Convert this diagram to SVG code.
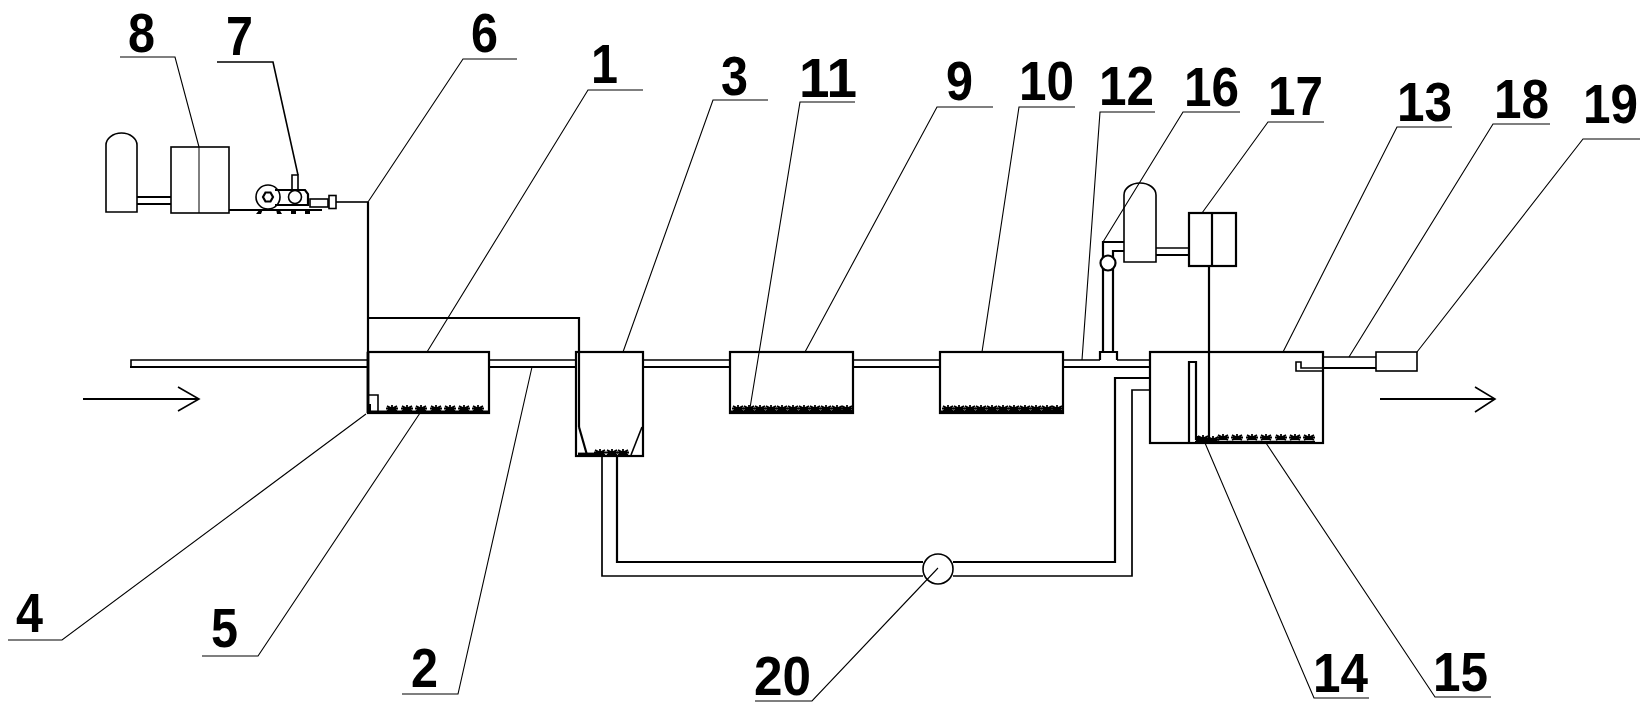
<svg xmlns="http://www.w3.org/2000/svg" xmlns:xlink="http://www.w3.org/1999/xlink" width="1646" height="711" viewBox="0 0 1646 711">
<style>
  .bg{fill:#fff}
  .s,.m,.t,.h,.d,.l{fill:none;stroke:#000;stroke-linejoin:miter}
  .s{stroke-width:2.2}
  .m{stroke-width:1.6}
  .t{stroke-width:1}
  .h{stroke-width:2.8}
  .l{stroke-width:1.1}
  .d{stroke-width:1.8}
  .w{fill:#fff;stroke:#000;stroke-width:2.2}
  .wm{fill:#fff;stroke:#000;stroke-width:1.6}
  .k{fill:#000}
  text{font-family:"Liberation Sans",Arial,sans-serif;font-weight:700;font-size:56px;fill:#000}
</style>
<defs>
  <g id="df"><path class="d" d="M-5,-5L5,0M5,-5L-5,0M0,-6V0M-6,-2.5H6M-3,-1H3"/></g>
</defs>
<rect class="bg" width="1646" height="711"/>

<g id="connectors">
  <!-- main line -->
  <path class="m" d="M367,360H131V367M489,360H576M643,360H730M853,360H940M1063,360H1100M1117,360H1150"/>
  <path class="s" d="M130,367H367M489,367H576M643,367H730M853,367H940M1063,367H1150"/>
  <!-- air line from blower to tanks -->
  <path class="m" d="M336,202H368"/>
  <path class="s" d="M368,202V352M368,318H579V427"/>
  <!-- return loop -->
  <path class="s" d="M617,456V562H923M953,562H1115V378H1150"/>
  <path class="s" style="stroke-width:1.7" d="M602,456V576H923M953,576H1132V390H1150"/>
  <!-- dosing riser -->
  <path class="s" d="M1103,352V242H1124M1113,352V251H1124"/>
  <path class="s" d="M1100,360V352H1117V360"/>
  <!-- blower pipes -->
  <path class="s" d="M137,197H171M229,210H322M137,204H171"/>
  <path class="m" d="M1156,248H1189"/>
  <path class="s" d="M1156,255H1189"/>
  <path class="s" d="M1209,266V442"/>
  <!-- outlet pipe -->
  <path class="m" d="M1323,357H1376"/>
  <path class="s" d="M1323,368H1376"/>
  <!-- flow arrows -->
  <path class="s" d="M83,399H199M1380,399H1495"/>
  <path class="m" d="M178,387L199,399L178,411M1475,387L1495,399L1475,412"/>
</g>

<g id="node-blower-tank-left">
  <path class="wm" d="M106,212V145A15.5,12 0 0 1 137,145V212Z"/>
</g>
<g id="node-8">
  <rect class="wm" x="171" y="147" width="58" height="66"/>
  <path class="t" d="M199,147V213"/>
  <text x="128" y="52" textLength="27" lengthAdjust="spacingAndGlyphs">8</text>
</g>
<g id="node-7">
  <circle class="wm" cx="268" cy="197" r="12"/>
  <path class="s" d="M263,197L265.500,192.500H270.500L273,197L270.500,201.500H265.500Z"/>
  <path class="s" d="M275,190H305L308,194V205H275"/>
  <circle class="m" cx="295" cy="197" r="6.500"/>
  <path class="m" d="M292,190V175H298V190"/>
  <rect class="wm" x="310" y="199" width="18" height="8"/>
  <rect class="wm" x="329" y="195.500" width="7" height="13"/>
  <path class="k" d="M256,214L260,209H263L261,214ZM276,209H279L282,214H277ZM291,210H296V214H291ZM305,210H310V214H305Z"/>
  <text x="226" y="55" textLength="27" lengthAdjust="spacingAndGlyphs">7</text>
</g>
<g id="node-6"><text x="471" y="52" textLength="27" lengthAdjust="spacingAndGlyphs">6</text></g>

<g id="node-1">
  <rect class="s" x="368" y="352" width="121" height="61"/>
  <path class="h" d="M368,352V413"/>
  <text x="591" y="83" textLength="27" lengthAdjust="spacingAndGlyphs">1</text>
</g>
<g id="node-4">
  <path class="m" d="M369,395H378V411"/>
  <path class="k" d="M368,404H371V412H368Z"/>
  <text x="16" y="632" textLength="27" lengthAdjust="spacingAndGlyphs">4</text>
</g>
<g id="node-5">
  <path class="h" d="M369,412H488"/>
  <use xlink:href="#df" href="#df" x="392" y="411"/>
  <use xlink:href="#df" href="#df" x="407" y="411"/>
  <use xlink:href="#df" href="#df" x="421" y="411"/>
  <use xlink:href="#df" href="#df" x="436" y="411"/>
  <use xlink:href="#df" href="#df" x="450" y="411"/>
  <use xlink:href="#df" href="#df" x="464" y="411"/>
  <use xlink:href="#df" href="#df" x="478" y="411"/>
  <text x="211" y="647" textLength="27" lengthAdjust="spacingAndGlyphs">5</text>
</g>
<g id="node-2"><text x="411" y="687" textLength="27" lengthAdjust="spacingAndGlyphs">2</text></g>

<g id="node-3">
  <rect class="s" x="576" y="352" width="67" height="104"/>
  <path class="s" d="M579,427L587,455"/>
  <path class="m" d="M642,427L631,455"/>
  <path class="h" d="M578,454H600"/>
  <use xlink:href="#df" href="#df" x="600" y="455"/>
  <use xlink:href="#df" href="#df" x="612" y="455"/>
  <use xlink:href="#df" href="#df" x="623" y="455"/>
  <text x="721" y="95" textLength="27" lengthAdjust="spacingAndGlyphs">3</text>
</g>

<g id="node-9">
  <rect class="s" x="730" y="352" width="123" height="61"/>
  <path class="h" d="M731,412H852"/>
  <use xlink:href="#df" href="#df" x="738" y="411"/>
  <use xlink:href="#df" href="#df" x="749" y="411"/>
  <use xlink:href="#df" href="#df" x="760" y="411"/>
  <use xlink:href="#df" href="#df" x="771" y="411"/>
  <use xlink:href="#df" href="#df" x="782" y="411"/>
  <use xlink:href="#df" href="#df" x="793" y="411"/>
  <use xlink:href="#df" href="#df" x="804" y="411"/>
  <use xlink:href="#df" href="#df" x="815" y="411"/>
  <use xlink:href="#df" href="#df" x="826" y="411"/>
  <use xlink:href="#df" href="#df" x="837" y="411"/>
  <use xlink:href="#df" href="#df" x="847" y="411"/>
  <text x="946" y="100" textLength="27" lengthAdjust="spacingAndGlyphs">9</text>
</g>
<g id="node-11"><text x="799" y="97" textLength="58" lengthAdjust="spacingAndGlyphs">11</text></g>

<g id="node-10">
  <rect class="s" x="940" y="352" width="123" height="61"/>
  <path class="h" d="M941,412H1062"/>
  <use xlink:href="#df" href="#df" x="948" y="411"/>
  <use xlink:href="#df" href="#df" x="959" y="411"/>
  <use xlink:href="#df" href="#df" x="970" y="411"/>
  <use xlink:href="#df" href="#df" x="981" y="411"/>
  <use xlink:href="#df" href="#df" x="992" y="411"/>
  <use xlink:href="#df" href="#df" x="1003" y="411"/>
  <use xlink:href="#df" href="#df" x="1014" y="411"/>
  <use xlink:href="#df" href="#df" x="1025" y="411"/>
  <use xlink:href="#df" href="#df" x="1036" y="411"/>
  <use xlink:href="#df" href="#df" x="1047" y="411"/>
  <use xlink:href="#df" href="#df" x="1057" y="411"/>
  <text x="1019" y="100" textLength="55" lengthAdjust="spacingAndGlyphs">10</text>
</g>

<g id="node-12"><text x="1099" y="105" textLength="55" lengthAdjust="spacingAndGlyphs">12</text></g>

<g id="node-16">
  <circle class="w" cx="1108" cy="263" r="7.500"/>
  <path class="wm" d="M1124,262V195A16,12 0 0 1 1156,195V262Z"/>
  <text x="1184" y="106" textLength="55" lengthAdjust="spacingAndGlyphs">16</text>
</g>
<g id="node-17">
  <rect class="s" x="1189" y="213" width="47" height="53"/>
  <path class="s" d="M1212,213V266"/>
  <text x="1268" y="115" textLength="55" lengthAdjust="spacingAndGlyphs">17</text>
</g>

<g id="node-13">
  <rect class="s" x="1150" y="352" width="173" height="91"/>
  <path class="m" d="M1323,371H1296V362H1301V368H1323"/>
  <text x="1397" y="121" textLength="55" lengthAdjust="spacingAndGlyphs">13</text>
</g>
<g id="node-14">
  <path class="s" d="M1189,443V362H1196V440"/>
  <path class="k" d="M1196,436H1200V441H1196Z"/>
  <text x="1313" y="692" textLength="55" lengthAdjust="spacingAndGlyphs">14</text>
</g>
<g id="node-15">
  <path class="m" d="M1195,441.500H1315"/>
  <use xlink:href="#df" href="#df" x="1203" y="441"/>
  <use xlink:href="#df" href="#df" x="1213" y="442"/>
  <use xlink:href="#df" href="#df" x="1223" y="440"/>
  <use xlink:href="#df" href="#df" x="1237" y="440"/>
  <use xlink:href="#df" href="#df" x="1252" y="440"/>
  <use xlink:href="#df" href="#df" x="1266" y="440"/>
  <use xlink:href="#df" href="#df" x="1281" y="440"/>
  <use xlink:href="#df" href="#df" x="1295" y="440"/>
  <use xlink:href="#df" href="#df" x="1309" y="440"/>
  <text x="1433" y="691" textLength="55" lengthAdjust="spacingAndGlyphs">15</text>
</g>

<g id="node-18"><text x="1494" y="118" textLength="55" lengthAdjust="spacingAndGlyphs">18</text></g>
<g id="node-19">
  <rect class="wm" x="1376" y="352" width="41" height="19"/>
  <text x="1583" y="123" textLength="55" lengthAdjust="spacingAndGlyphs">19</text>
</g>
<g id="node-20">
  <ellipse class="wm" cx="938" cy="569" rx="15" ry="15"/>
  <text x="754" y="695" textLength="57" lengthAdjust="spacingAndGlyphs">20</text>
</g>

<g id="leaders">
  <path class="l" d="M120,57H175L199,147"/>
  <path class="l" style="stroke-width:1.6" d="M217,62H273L298,175"/>
  <path class="l" d="M517,59H463L368,202"/>
  <path class="l" d="M643,90H588L427,352"/>
  <path class="l" d="M768,100H713L623,352"/>
  <path class="l" d="M855,102H800L750,408"/>
  <path class="l" d="M993,107H937L805,352"/>
  <path class="l" d="M1075,107H1019L982,352"/>
  <path class="l" d="M1155,112H1100L1082,360"/>
  <path class="l" d="M1240,112H1183L1103,242"/>
  <path class="l" d="M1324,122H1268L1202,213"/>
  <path class="l" d="M1452,127H1397L1283,352"/>
  <path class="l" d="M1550,124H1493L1349,357"/>
  <path class="l" d="M1640,139H1583L1417,352"/>
  <path class="l" d="M8,640H62L366,414"/>
  <path class="l" d="M202,656H258L420,413"/>
  <path class="l" d="M402,694H458L532,367"/>
  <path class="l" d="M755,701H812L938,568"/>
  <path class="l" d="M1369,698H1314L1205,443"/>
  <path class="l" d="M1491,697H1435L1266,443"/>
</g>
</svg>
